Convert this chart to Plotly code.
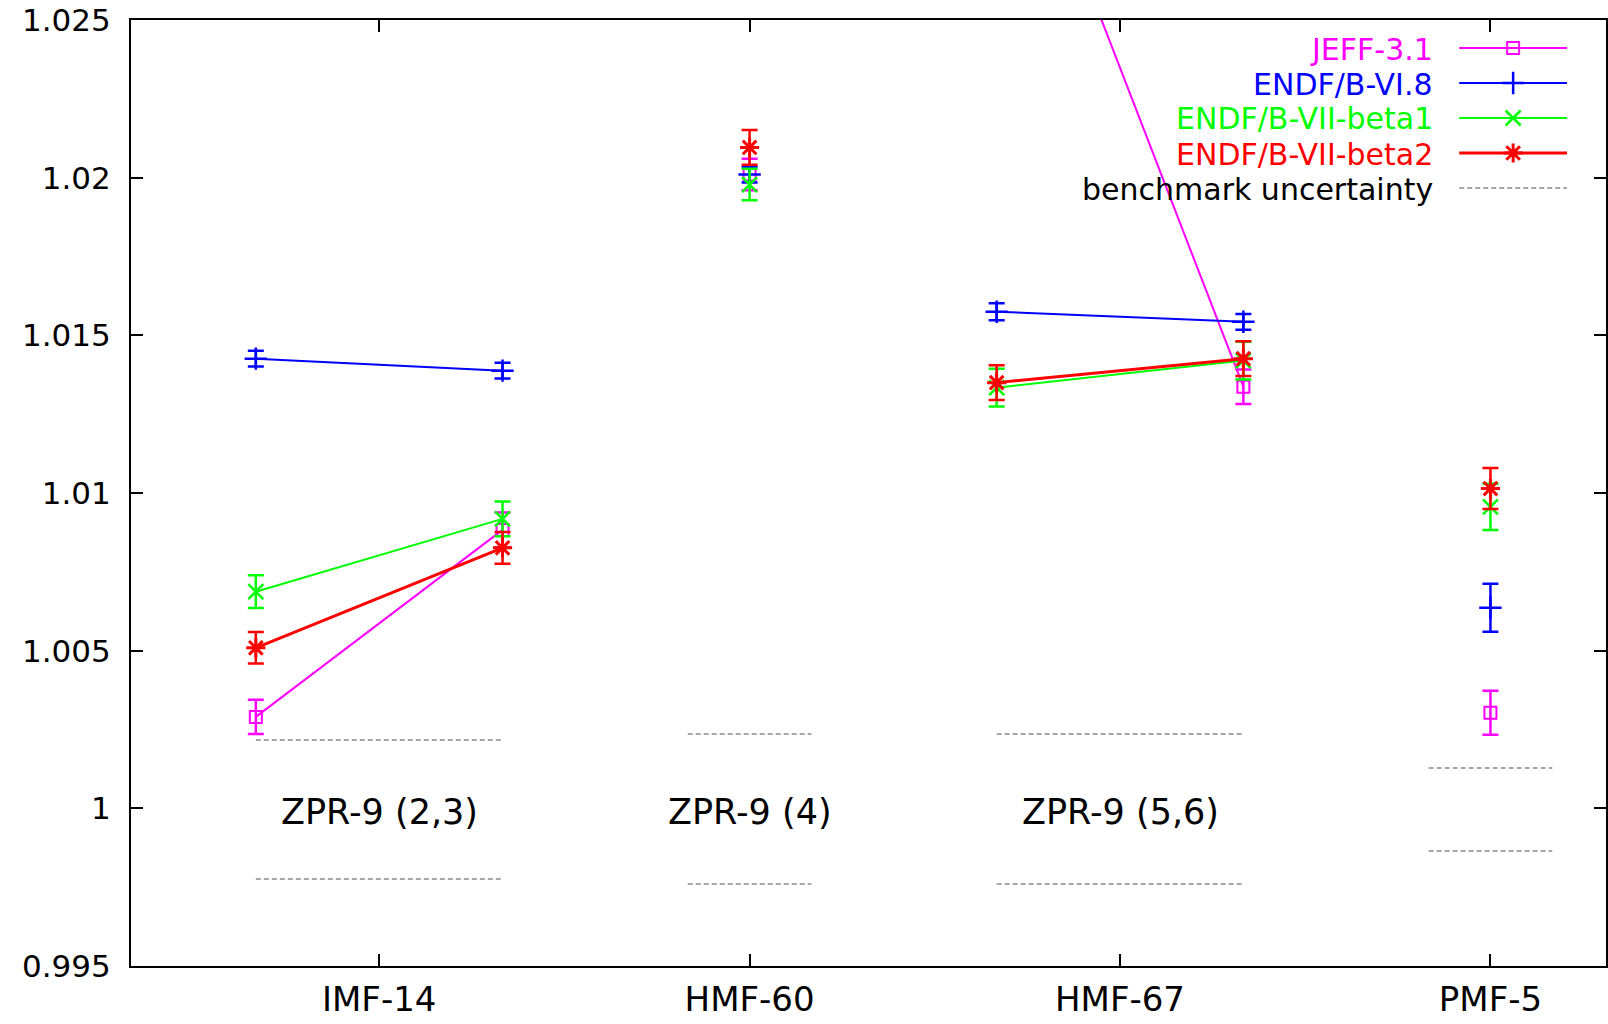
import plotly.graph_objects as go

# ---- data ----
categories = ["IMF-14", "HMF-60", "HMF-67", "PMF-5"]
cat_pos = [1, 2, 3, 4]
group_labels = ["ZPR-9 (2,3)", "ZPR-9 (4)", "ZPR-9 (5,6)"]
group_label_x = [1, 2, 3]
group_label_y = [1.0, 1.0, 1.0]

# x positions of results, grouped (None breaks the line between groups)
x_groups = [[0.667, 1.333], [2.0], [2.667, 3.333], [4.0]]

series_names = ["JEFF-3.1", "ENDF/B-VI.8", "ENDF/B-VII-beta1", "ENDF/B-VII-beta2"]
jeff = [[1.0029, 1.00883], [1.0201], [1.0336, 1.01337], [1.00303]]
jeff_err = [[0.00054, 0.00055], [0.0005], [0.0005, 0.00055], [0.0007]]
vi8 = [[1.01426, 1.01388], [1.0201], [1.01575, 1.01543], [1.00636]]
vi8_err = [[0.00025, 0.00025], [0.00025], [0.00027, 0.00025], [0.00076]]
beta1 = [[1.00687, 1.00918], [1.01978], [1.01334, 1.0142], [1.00956]]
beta1_err = [[0.00052, 0.00055], [0.0005], [0.0006, 0.0006], [0.00073]]
beta2 = [[1.00509, 1.00826], [1.02096], [1.0135, 1.01426], [1.01014]]
beta2_err = [[0.0005, 0.0005], [0.00055], [0.00055, 0.00055], [0.00065]]

bench_x0 = [0.667, 1.833, 2.667, 3.833]
bench_x1 = [1.333, 2.167, 3.333, 4.167]
bench_hi = [1.00217, 1.00236, 1.00236, 1.00128]
bench_lo = [0.99776, 0.9976, 0.9976, 0.99865]

y_ticks = [0.995, 1.0, 1.005, 1.01, 1.015, 1.02, 1.025]
y_ticktext = ["0.995", "1", "1.005", "1.01", "1.015", "1.02", "1.025"]

# ---- styles ----
colors = ["#ff00ff", "#0000ff", "#00ff00", "#ff0000"]
symbols = ["square-open", "cross-thin-open", "x-thin-open", "asterisk-open"]
msizes = [12, 16, 15, 16]
mlw = [2, 2.5, 2.5, 3]
lwidths = [2, 2, 2, 3]
FONT = "DejaVu Sans, Liberation Sans, Arial, sans-serif"
BENCH_COLOR = "#8c8c8c"

W, H = 1608, 1024
ML, MR, MT, MB = 131, 0, 20, 58


def flatten(groups):
    out = []
    for i, g in enumerate(groups):
        if i:
            out.append(None)
        out.extend(g)
    return out


xs = flatten(x_groups)
fig = go.Figure()

# benchmark uncertainty lines
bx, by = [], []
for x0, x1, hi, lo in zip(bench_x0, bench_x1, bench_hi, bench_lo):
    bx += [x0, x1, None, x0, x1, None]
    by += [hi, hi, None, lo, lo, None]
fig.add_trace(go.Scatter(x=bx, y=by, mode="lines",
                         line=dict(color=BENCH_COLOR, width=1.5, dash="5px,3px"),
                         hoverinfo="skip", showlegend=False))

for name, vals, errs, c, s, ms, mw, lw in zip(
        series_names, [jeff, vi8, beta1, beta2],
        [jeff_err, vi8_err, beta1_err, beta2_err],
        colors, symbols, msizes, mlw, lwidths):
    ys = flatten(vals)
    es = [e if e is not None else 0 for e in flatten(errs)]
    fig.add_trace(go.Scatter(
        x=xs, y=ys, mode="lines+markers", name=name,
        line=dict(color=c, width=lw),
        marker=dict(symbol=s, size=ms, color=c, line=dict(color=c, width=mw)),
        error_y=dict(type="data", array=es, visible=True, color=c,
                     thickness=2.5, width=8),
        connectgaps=False, showlegend=False))

# group labels
for gx, gy, t in zip(group_label_x, group_label_y, group_labels):
    fig.add_annotation(x=gx, y=gy, text=t, showarrow=False, yshift=-4,
                       font=dict(family=FONT, size=35, color="black"),
                       xanchor="center", yanchor="middle")

# ---- custom legend (gnuplot style: text right, sample left) ----
pw = W - ML - MR
ph = H - MT - MB
def px_x(p):
    return (p - ML) / pw
def px_y(p):
    return 1 - (p - MT) / ph

leg_rows_px = [48, 83, 118, 153, 188]
leg_text_right = px_x(1436)
leg_x0, leg_xm, leg_x1 = px_x(1461), px_x(1515), px_x(1569)
leg_labels = series_names + ["benchmark uncertainty"]
leg_colors = colors + ["black"]
for ry, t, c in zip(leg_rows_px, leg_labels, leg_colors):
    fig.add_annotation(xref="paper", yref="paper", x=leg_text_right, y=px_y(ry + 1),
                       text=t, showarrow=False, xanchor="right", yanchor="middle",
                       borderpad=0,
                       font=dict(family=FONT, size=30, color=c))
for i, (ry, c, s, ms, mw, lw) in enumerate(zip(leg_rows_px[:4], colors, symbols, msizes, mlw, lwidths)):
    fig.add_trace(go.Scatter(
        x=[leg_x0, leg_x1], y=[px_y(ry), px_y(ry)], xaxis="x2", yaxis="y2",
        mode="lines", line=dict(color=c, width=lw), hoverinfo="skip", showlegend=False))
    fig.add_trace(go.Scatter(
        x=[leg_xm], y=[px_y(ry)], xaxis="x2", yaxis="y2", mode="markers",
        marker=dict(symbol=s, size=ms, color=c, line=dict(color=c, width=mw)),
        hoverinfo="skip", showlegend=False))
fig.add_trace(go.Scatter(
    x=[leg_x0, leg_x1], y=[px_y(leg_rows_px[4]), px_y(leg_rows_px[4])],
    xaxis="x2", yaxis="y2", mode="lines",
    line=dict(color=BENCH_COLOR, width=1.5, dash="5px,3px"),
    hoverinfo="skip", showlegend=False))

axis_common = dict(showline=True, linecolor="black", linewidth=2, mirror="ticks",
                   ticks="inside", ticklen=12, tickwidth=2, tickcolor="black",
                   showgrid=False, zeroline=False)

fig.update_layout(
    width=W, height=H,
    margin=dict(l=ML, r=MR, t=MT, b=MB, pad=0),
    paper_bgcolor="white", plot_bgcolor="white",
    font=dict(family=FONT, color="black"),
    showlegend=False,
    xaxis=dict(range=[0.33, 4.312], tickvals=cat_pos, ticktext=categories,
               tickfont=dict(family=FONT, size=34, color="black"),
               ticklabelstandoff=2, **axis_common),
    yaxis=dict(range=[0.995, 1.025], tickvals=y_ticks, ticktext=y_ticktext,
               tickfont=dict(family=FONT, size=31, color="black"),
               ticklabelstandoff=12, **axis_common),
    xaxis2=dict(overlaying="x", range=[0, 1], visible=False, fixedrange=True),
    yaxis2=dict(overlaying="y", range=[0, 1], visible=False, fixedrange=True),
)

fig.write_html("out.html")
